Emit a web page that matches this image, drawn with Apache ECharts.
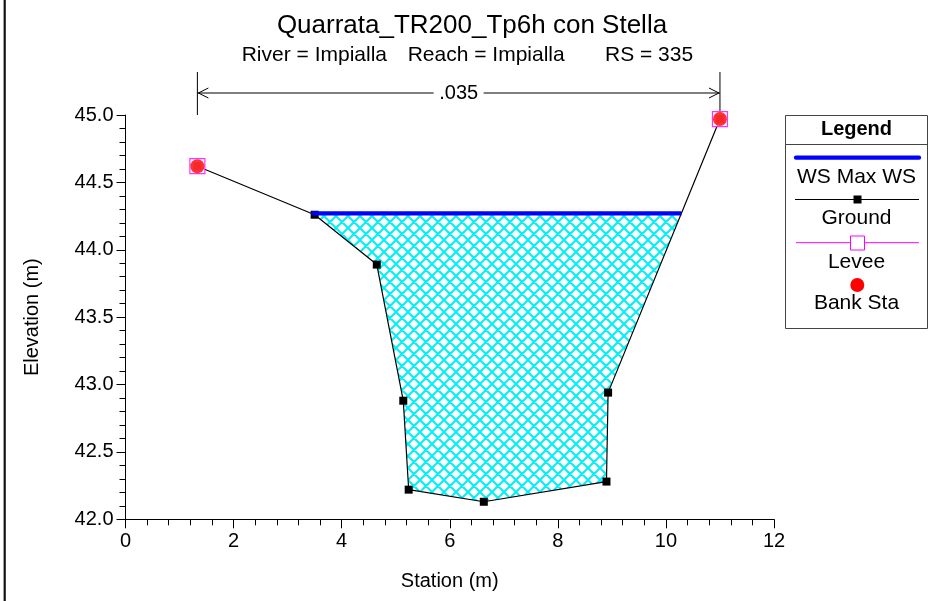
<!DOCTYPE html>
<html>
<head>
<meta charset="utf-8">
<script src="https://cdn.jsdelivr.net/npm/echarts@6/dist/echarts.min.js"></script>
<style>
html,body{margin:0;padding:0;background:#fff;}
#main{width:928px;height:601px;}
</style>
</head>
<body>
<div id="main"></div>
<script>
// ---- data ----
const titleText = 'Quarrata_TR200_Tp6h con Stella';
const subtitleParts = ['River = Impialla', 'Reach = Impialla', 'RS = 335'];
const groundX = [1.33, 3.50, 4.65, 5.14, 5.24, 6.63, 8.90, 8.93, 11.00];
const groundY = [44.62, 44.26, 43.89, 42.88, 42.22, 42.13, 42.28, 42.94, 44.97];
const wsElev = 44.27;
const leveeX = [1.33, 11.00];
const leveeY = [44.62, 44.97];
const bankX = [1.33, 11.00];
const bankY = [44.62, 44.97];
const manningN = ['.035'];
const xTicks = [0, 2, 4, 6, 8, 10, 12];
const yTicks = [42.0, 42.5, 43.0, 43.5, 44.0, 44.5, 45.0];
const legendNames = ['WS Max WS', 'Ground', 'Levee', 'Bank Sta'];

const FONT = 'Liberation Sans, Arial, sans-serif';

// water surface crossings with ground
function crossings() {
  let left = null, right = null;
  for (let i = 0; i < groundX.length - 1; i++) {
    const y1 = groundY[i], y2 = groundY[i + 1];
    if ((y1 - wsElev) * (y2 - wsElev) <= 0 && y1 !== y2) {
      const x = groundX[i] + (wsElev - y1) / (y2 - y1) * (groundX[i + 1] - groundX[i]);
      if (left === null) left = {x: x, i: i}; else right = {x: x, i: i};
    }
  }
  return {left, right};
}
const cr = crossings();
const wsData = [[cr.left.x, wsElev], [cr.right.x, wsElev]];

// polygon of wetted area
const polyData = [[cr.left.x, wsElev]];
for (let i = cr.left.i + 1; i <= cr.right.i; i++) polyData.push([groundX[i], groundY[i]]);
polyData.push([cr.right.x, wsElev]);

// hatch pattern
const P = 12;
const pat = document.createElement('canvas');
pat.width = P; pat.height = P;
(function () {
  const c = pat.getContext('2d');
  c.strokeStyle = '#00f0f8';
  c.lineWidth = 2;
  c.beginPath();
  for (let k = -1; k <= 1; k++) {
    c.moveTo(-2, -2 + k * P); c.lineTo(P + 2, P + 2 + k * P);
    c.moveTo(P + 2, -2 + k * P); c.lineTo(-2, P + 2 + k * P);
  }
  c.stroke();
})();

const chart = echarts.init(document.getElementById('main'), null, {renderer: 'canvas'});

const option = {
  animation: false,
  backgroundColor: '#ffffff',
  grid: {left: 125.5, top: 115, width: 648.5, height: 404.3, containLabel: false},
  xAxis: {
    type: 'value', min: xTicks[0], max: xTicks[xTicks.length - 1], interval: 2,
    name: 'Station (m)', nameLocation: 'middle', nameGap: 52,
    nameTextStyle: {fontFamily: FONT, fontSize: 20, color: '#000'},
    axisLine: {show: true, onZero: false, lineStyle: {color: '#000', width: 1}},
    axisTick: {show: true, inside: false, length: 9, lineStyle: {color: '#000'}},
    minorTick: {show: true, splitNumber: 5, length: 6, lineStyle: {color: '#000'}},
    splitLine: {show: false},
    axisLabel: {fontFamily: FONT, fontSize: 20, color: '#000', margin: 12}
  },
  yAxis: {
    type: 'value', min: yTicks[0], max: yTicks[yTicks.length - 1], interval: 0.5,
    name: 'Elevation (m)', nameLocation: 'middle', nameGap: 83,
    nameTextStyle: {fontFamily: FONT, fontSize: 20, color: '#000'},
    axisLine: {show: true, onZero: false, lineStyle: {color: '#000', width: 1}},
    axisTick: {show: true, inside: false, length: 9, lineStyle: {color: '#000'}},
    minorTick: {show: true, splitNumber: 5, length: 6, lineStyle: {color: '#000'}},
    splitLine: {show: false},
    axisLabel: {fontFamily: FONT, fontSize: 20, color: '#000', margin: 12,
      formatter: v => v.toFixed(1)}
  },
  series: [
    {
      type: 'custom', name: 'hatch', z: 1, silent: true,
      data: [0],
      renderItem: function (params, api) {
        const pts = polyData.map(p => api.coord(p));
        return {type: 'polygon', shape: {points: pts},
          style: {fill: {image: pat, repeat: 'repeat'}, stroke: null}};
      }
    },
    {
      type: 'line', name: 'Ground', z: 3,
      data: groundX.map((x, i) => [x, groundY[i]]),
      symbol: 'rect', symbolSize: 8, showAllSymbol: true,
      lineStyle: {color: '#000', width: 1.2},
      itemStyle: {color: '#000'}
    },
    {
      type: 'line', name: 'WS Max WS', z: 4,
      data: wsData, symbol: 'none',
      lineStyle: {color: '#0000ff', width: 4.3, cap: 'butt'}
    },
    {
      type: 'scatter', name: 'Levee', zlevel: 1, z: 5,
      data: leveeX.map((x, i) => [x, leveeY[i]]),
      symbol: 'rect', symbolSize: 15,
      itemStyle: {color: '#ffffff', borderColor: '#ff00ff', borderWidth: 1.2}
    },
    {
      type: 'scatter', name: 'Bank Sta', zlevel: 1, z: 6,
      data: bankX.map((x, i) => [x, bankY[i]]),
      symbol: 'circle', symbolSize: 14,
      itemStyle: {color: '#ff0000'}
    },
    {
      type: 'custom', name: 'nvalue', z: 2, silent: true, clip: false,
      data: [0],
      renderItem: function (params, api) {
        const yTop = yTicks[yTicks.length - 1];
        const p1 = api.coord([bankX[0], yTop]);
        const p2 = api.coord([bankX[1], yTop]);
        const top = p1[1] - 43, ay = p1[1] - 22;
        const cx = (p1[0] + p2[0]) / 2;
        const ls = {stroke: '#000', lineWidth: 1, fill: null};
        return {type: 'group', children: [
          {type: 'line', shape: {x1: p1[0], y1: top, x2: p1[0], y2: p1[1]}, style: ls},
          {type: 'line', shape: {x1: p2[0], y1: top, x2: p2[0], y2: p2[1] - 4}, style: ls},
          {type: 'line', shape: {x1: p1[0], y1: ay, x2: cx - 25, y2: ay}, style: ls},
          {type: 'line', shape: {x1: cx + 25, y1: ay, x2: p2[0], y2: ay}, style: ls},
          {type: 'polyline', shape: {points: [[p1[0] + 11, ay - 5], [p1[0] + 1, ay], [p1[0] + 11, ay + 5]]}, style: ls},
          {type: 'polyline', shape: {points: [[p2[0] - 11, ay - 5], [p2[0] - 1, ay], [p2[0] - 11, ay + 5]]}, style: ls},
          {type: 'text', style: {text: manningN[0], x: cx, y: ay, align: 'center', verticalAlign: 'middle',
            font: '20px ' + FONT, fill: '#000'}}
        ]};
      }
    }
  ],
  graphic: [
    {type: 'rect', shape: {x: 3.6, y: 0, width: 2.2, height: 601}, style: {fill: '#111'}, silent: true},
    {type: 'text', x: 472, y: 26, style: {text: titleText, font: '26px ' + FONT, fill: '#000',
      align: 'center', verticalAlign: 'middle'}},
    {type: 'text', x: 241.7, y: 55.5, style: {text: subtitleParts[0], font: '21px ' + FONT, fill: '#000',
      align: 'left', verticalAlign: 'middle'}},
    {type: 'text', x: 407.7, y: 55.5, style: {text: subtitleParts[1], font: '21px ' + FONT, fill: '#000',
      align: 'left', verticalAlign: 'middle'}},
    {type: 'text', x: 605, y: 55.5, style: {text: subtitleParts[2], font: '21px ' + FONT, fill: '#000',
      align: 'left', verticalAlign: 'middle'}},
    // legend
    {type: 'rect', shape: {x: 785.5, y: 115.5, width: 142, height: 213}, style: {fill: '#fff', stroke: '#444', lineWidth: 1}},
    {type: 'line', shape: {x1: 785.5, y1: 144.5, x2: 927.5, y2: 144.5}, style: {stroke: '#444', lineWidth: 1}},
    {type: 'text', x: 856.5, y: 129, style: {text: 'Legend', font: 'bold 20px ' + FONT, fill: '#000', align: 'center', verticalAlign: 'middle'}},
    {type: 'line', shape: {x1: 796, y1: 157.7, x2: 919, y2: 157.7}, style: {stroke: '#0000ff', lineWidth: 4.3, lineCap: 'round'}},
    {type: 'text', x: 856.5, y: 177, style: {text: legendNames[0], font: '21px ' + FONT, fill: '#000', align: 'center', verticalAlign: 'middle'}},
    {type: 'line', shape: {x1: 795, y1: 199.5, x2: 919, y2: 199.5}, style: {stroke: '#000', lineWidth: 1}},
    {type: 'rect', shape: {x: 853.5, y: 195.5, width: 8, height: 8}, style: {fill: '#000'}},
    {type: 'text', x: 856.5, y: 218.5, style: {text: legendNames[1], font: '21px ' + FONT, fill: '#000', align: 'center', verticalAlign: 'middle'}},
    {type: 'line', shape: {x1: 796, y1: 242.7, x2: 919, y2: 242.7}, style: {stroke: '#ff00ff', lineWidth: 1}},
    {type: 'rect', shape: {x: 850.5, y: 236, width: 14, height: 14}, style: {fill: '#fff', stroke: '#ff00ff', lineWidth: 1}},
    {type: 'text', x: 856.5, y: 262.5, style: {text: legendNames[2], font: '21px ' + FONT, fill: '#000', align: 'center', verticalAlign: 'middle'}},
    {type: 'circle', shape: {cx: 857.3, cy: 285, r: 7}, style: {fill: '#ff0000'}},
    {type: 'text', x: 856.5, y: 303.5, style: {text: legendNames[3], font: '21px ' + FONT, fill: '#000', align: 'center', verticalAlign: 'middle'}}
  ]
};
chart.setOption(option);
</script>
</body>
</html>
